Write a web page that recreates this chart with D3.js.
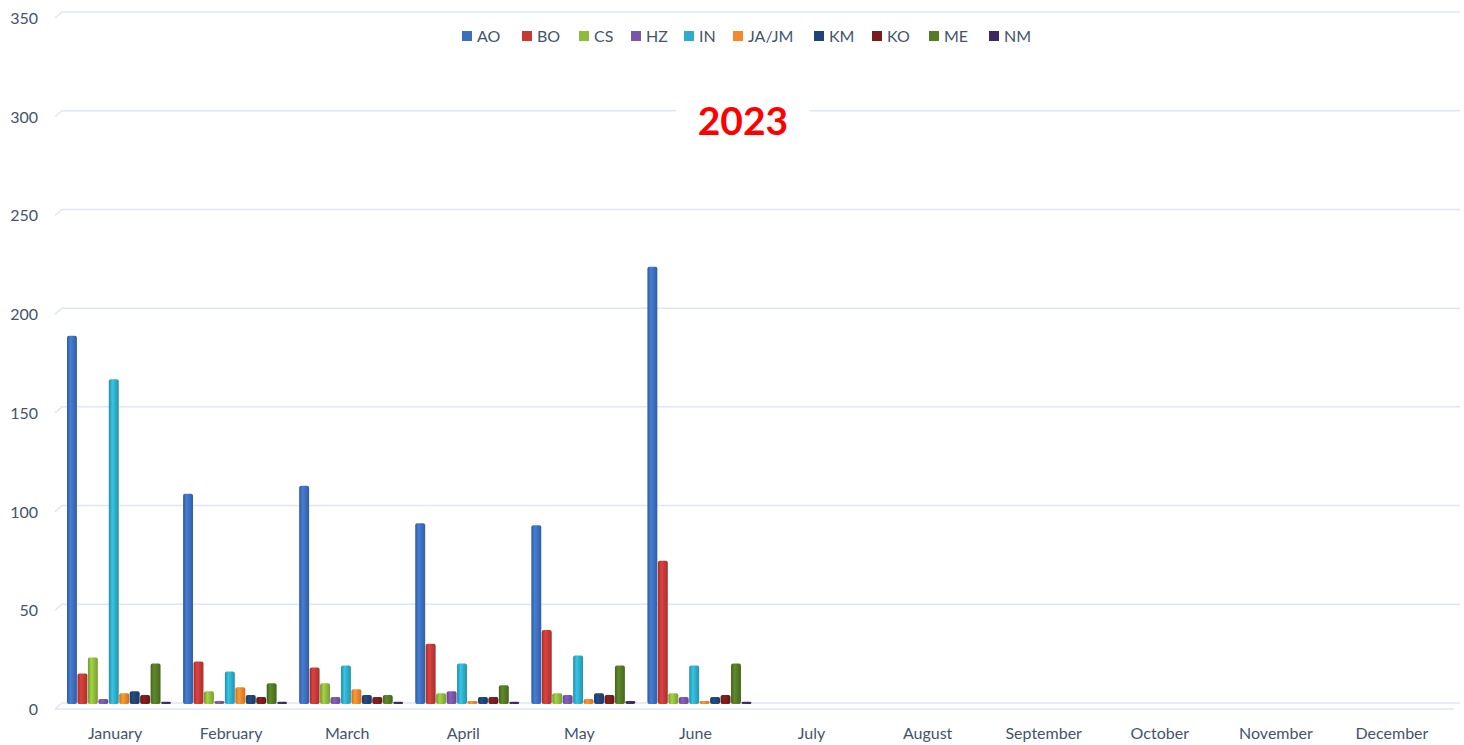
<!DOCTYPE html>
<html>
<head>
<meta charset="utf-8">
<script src="https://cdnjs.cloudflare.com/ajax/libs/d3/7.8.5/d3.min.js"></script>
<style>
body{ margin:0; background:#fff; }
svg{ display:block; }
text{ font-family: "Lato", "Open Sans", sans-serif; }
</style>
</head>
<body>
<script>
// data
var months = ["January","February","March","April","May","June","July","August","September","October","November","December"];
var seriesNames = ["AO","BO","CS","HZ","IN","JA/JM","KM","KO","ME","NM"];
var AO = [186, 106, 110, 91, 90, 221];
var BO = [15, 21, 18, 30, 37, 72];
var CS = [23, 6, 10, 5, 5, 5];
var HZ = [2, 1, 3, 6, 4, 3];
var IN = [164, 16, 19, 20, 24, 19];
var JA = [5, 8, 7, 1, 2, 1];
var KM = [6, 4, 4, 3, 5, 3];
var KO = [4, 3, 3, 3, 4, 4];
var ME = [20, 10, 4, 9, 19, 20];
var NM = [0.6, 0.6, 0.6, 0.6, 1, 0.6];
var yTicks = [0, 50, 100, 150, 200, 250, 300, 350];
var colors = ["#3d6fbf","#c53a37","#8fbb3d","#7b55a8","#2faecb","#f5882a","#1f4478","#7a1c1c","#557a24","#3e2a5c"];

var values = [AO, BO, CS, HZ, IN, JA, KM, KO, ME, NM];

var W = 1464, H = 745;
var svg = d3.select("body").append("svg").attr("width", W).attr("height", H);

var x = d3.scaleBand().domain(months).range([57, 1450]).padding(0);
var xs = d3.scaleBand().domain(seriesNames).range([10, 114]).paddingInner(0.05);
var y = d3.scaleLinear().domain([0, 350]).range([703, 12]);

// gradients for the cylinder look
var defs = svg.append("defs");
colors.forEach(function(c, i){
  var g = defs.append("linearGradient").attr("id", "g" + i)
    .attr("x1", "0%").attr("x2", "100%").attr("y1", "0%").attr("y2", "0%");
  g.append("stop").attr("offset", "0%").attr("stop-color", d3.color(c).darker(0.6));
  g.append("stop").attr("offset", "35%").attr("stop-color", d3.color(c).brighter(0.35));
  g.append("stop").attr("offset", "100%").attr("stop-color", d3.color(c).darker(0.5));
});

// gridlines with the 3D slant at the left
svg.append("g").selectAll("path").data(yTicks).enter().append("path")
  .attr("d", function(d){ var gy = y(d); return "M55," + (gy + 6) + "L62," + gy + "L1460," + gy; })
  .attr("fill", "none")
  .attr("stroke", "#dde7f3")
  .attr("stroke-width", 1.5);

// floor front edge
svg.append("path")
  .attr("d", "M55," + (y(0) + 6) + "L1454," + (y(0) + 6))
  .attr("stroke", "#dde7f3").attr("stroke-width", 1.5);

// y tick labels
svg.append("g").selectAll("text").data(yTicks).enter().append("text")
  .attr("x", 38).attr("y", function(d){ return y(d) + 12; })
  .attr("text-anchor", "end")
  .attr("font-size", 16)
  .attr("fill", "#44546a")
  .text(function(d){ return d; });

// month labels
svg.append("g").selectAll("text").data(months).enter().append("text")
  .attr("x", function(d){ return x(d) + x.bandwidth() / 2; })
  .attr("y", 739)
  .attr("text-anchor", "middle")
  .attr("font-size", 16)
  .attr("fill", "#44546a")
  .text(function(d){ return d; });

// bars
seriesNames.forEach(function(s, i){
  var vals = values[i];
  var g = svg.append("g");
  g.selectAll("rect").data(vals).enter().append("rect")
    .attr("x", function(d, j){ return x(months[j]) + xs(s); })
    .attr("y", function(d){ return y(d); })
    .attr("width", xs.bandwidth())
    .attr("height", function(d){ return y(0) - y(d) + 1; })
    .attr("rx", 2).attr("ry", 2)
    .attr("fill", "url(#g" + i + ")");
});

// title box and text
svg.append("rect").attr("x", 676).attr("y", 100).attr("width", 134).attr("height", 40).attr("fill", "#fff");
svg.append("text")
  .attr("x", 743).attr("y", 135)
  .attr("text-anchor", "middle")
  .attr("font-size", 39)
  .attr("font-weight", "bold")
  .attr("font-family", "Open Sans, sans-serif")
  .attr("fill", "#ff0000")
  .text("2023");

// legend
var legX = [462, 522, 579, 631, 684, 733, 814, 872, 929, 989];
var leg = svg.append("g").selectAll("g").data(seriesNames).enter().append("g")
  .attr("transform", function(d, i){ return "translate(" + legX[i] + ",31)"; });
leg.append("rect").attr("width", 10).attr("height", 10)
  .attr("fill", function(d, i){ return colors[i]; });
leg.append("text").attr("x", 15).attr("y", 11)
  .attr("font-size", 16).attr("fill", "#44546a")
  .text(function(d){ return d; });
</script>
</body>
</html>
